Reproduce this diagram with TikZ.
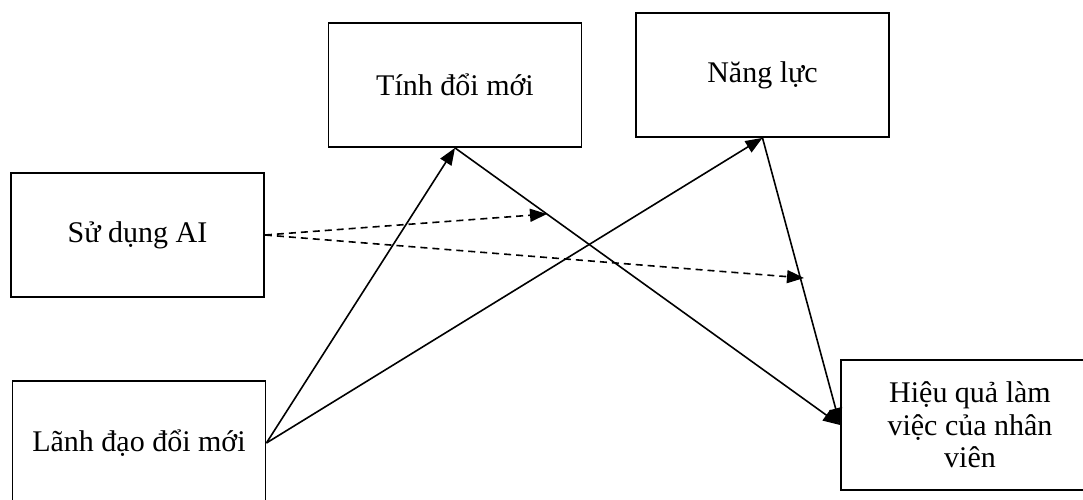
\documentclass[tikz,border=0pt]{standalone}
\usepackage{fontspec}
\setmainfont{Liberation Serif}
\usetikzlibrary{arrows.meta}

\tikzset{
  box/.style={draw, line width=1.8pt, minimum width=253pt, minimum height=124pt,
    inner sep=0pt, align=center, font=\fontsize{30}{32.5}\selectfont},
  link/.style={line width=1.6pt, -{Triangle[length=17pt,width=13pt]}},
  dlink/.style={link, dash pattern=on 7pt off 5pt}
}

\begin{document}
\begin{tikzpicture}[x=1pt,y=-1pt]
  \useasboundingbox (0,0) rectangle (1083,499);

  % constructs of the model
  \node[box] (tinh)   at (455,85)    {Tính đổi mới};
  \node[box] (nang)   at (762.5,75)  {Năng lực};
  \node[box] (ai)     at (137.5,235) {Sử dụng AI};
  \node[box] (lanh)   at (139,443)   {Lãnh đạo đổi mới};
  \node[box, minimum width=258pt, minimum height=130pt] (hieu) at (970,425)
    {Hiệu quả làm\\việc của nhân\\viên};

  % ends of the moderating paths
  \coordinate (m1) at (547,214);
  \coordinate (m2) at (804,278);

  % direct effects
  \draw[link] (lanh.east) -- (tinh.south);
  \draw[link] (lanh.east) -- (nang.south);
  \draw[link] (tinh.south) -- (hieu.west);
  \draw[link] (nang.south) -- (hieu.west);

  % moderating effects of AI use
  \draw[dlink] (ai.east) -- (m1);
  \draw[dlink] (ai.east) -- (m2);
\end{tikzpicture}
\end{document}
